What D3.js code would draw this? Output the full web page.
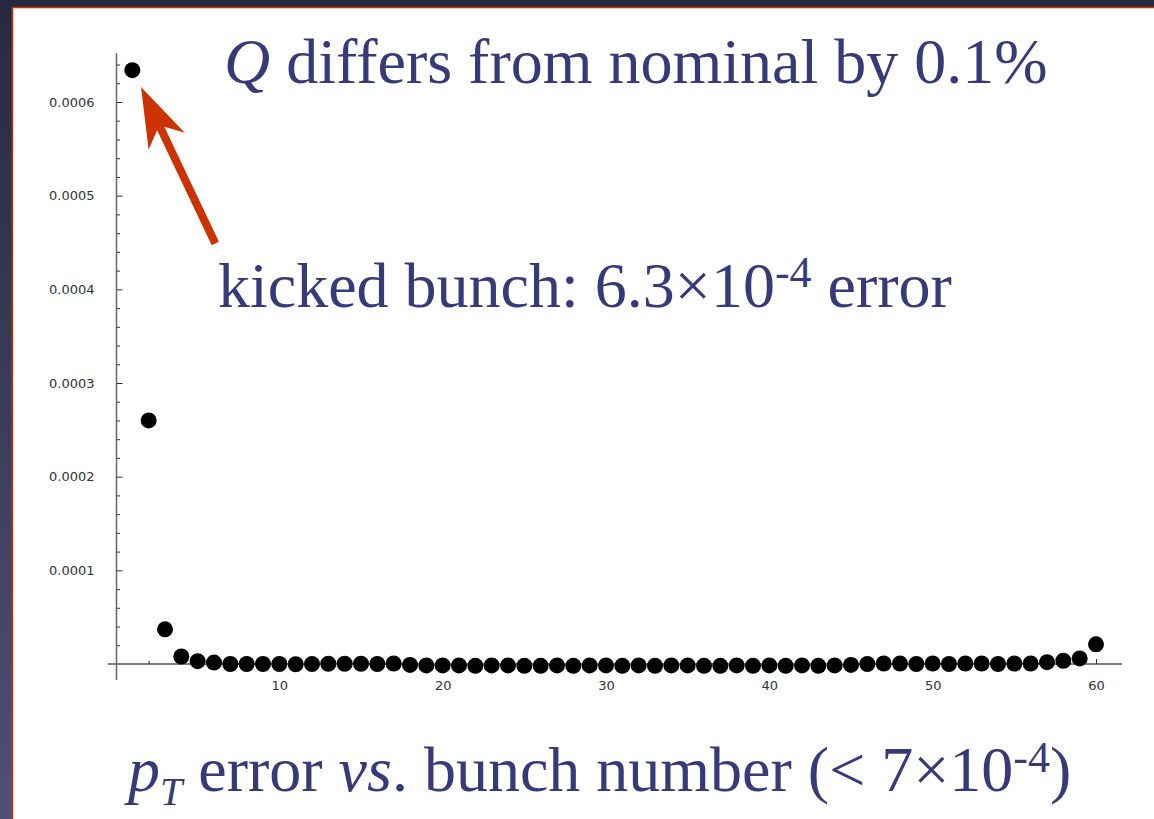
<!DOCTYPE html>
<html>
<head>
<meta charset="utf-8">
<script src="https://cdn.jsdelivr.net/npm/d3@7"></script>
<style>
  body { margin: 0; background: #fff; }
  text { white-space: pre; }
</style>
</head>
<body>
<div id="chart"></div>
<script>
var width = 1154,
    height = 819;

// bunch numbers and pT error
var bunch = [1, 2, 3, 4, 5, 6, 7, 8, 9, 10,
             11, 12, 13, 14, 15, 16, 17, 18, 19, 20,
             21, 22, 23, 24, 25, 26, 27, 28, 29, 30,
             31, 32, 33, 34, 35, 36, 37, 38, 39, 40,
             41, 42, 43, 44, 45, 46, 47, 48, 49, 50,
             51, 52, 53, 54, 55, 56, 57, 58, 59, 60];
var ptError = [6.34e-4, 2.60e-4, 0.37e-4, 0.08e-4, 0.03e-4, 0.015e-4, 0, 0, 0, 0,
               -0.003e-4, 0, 0.003e-4, 0.003e-4, 0.003e-4, 0, 0.005e-4, -0.01e-4, -0.015e-4, -0.015e-4,
               -0.015e-4, -0.02e-4, -0.015e-4, -0.015e-4, -0.02e-4, -0.02e-4, -0.015e-4, -0.02e-4, -0.015e-4, -0.015e-4,
               -0.02e-4, -0.015e-4, -0.02e-4, -0.015e-4, -0.015e-4, -0.02e-4, -0.02e-4, -0.015e-4, -0.02e-4, -0.015e-4,
               -0.02e-4, -0.015e-4, -0.02e-4, -0.015e-4, -0.01e-4, 0, 0.005e-4, 0.005e-4, 0, 0.005e-4,
               0, 0.005e-4, 0.005e-4, 0, 0.005e-4, 0.005e-4, 0.02e-4, 0.035e-4, 0.06e-4, 0.21e-4];

var yMajor = [0.0001, 0.0002, 0.0003, 0.0004, 0.0005, 0.0006];
var yMinor = [0.00002, 0.00004, 0.00006, 0.00008, 0.00012, 0.00014, 0.00016, 0.00018,
              0.00022, 0.00024, 0.00026, 0.00028, 0.00032, 0.00034, 0.00036, 0.00038,
              0.00042, 0.00044, 0.00046, 0.00048, 0.00052, 0.00054, 0.00056, 0.00058,
              0.00062, 0.00064];
var xMajor = [10, 20, 30, 40, 50, 60];
var xMinor = [2, 4, 6, 8, 12, 14, 16, 18, 22, 24, 26, 28, 32, 34, 36, 38,
              42, 44, 46, 48, 52, 54, 56, 58];

var textColor = "#363a79";

var svg = d3.select("#chart").append("svg")
    .attr("width", width)
    .attr("height", height);

// slide frame
var grad = svg.append("defs").append("linearGradient")
    .attr("id", "frame")
    .attr("x1", 0).attr("y1", 0).attr("x2", 0).attr("y2", 1);
grad.append("stop").attr("offset", "0%").attr("stop-color", "#272a3f");
grad.append("stop").attr("offset", "100%").attr("stop-color", "#4f4f77");

svg.append("rect")
    .attr("width", width).attr("height", height)
    .attr("fill", "url(#frame)");
svg.append("rect")
    .attr("x", 12).attr("y", 7)
    .attr("width", width - 12).attr("height", height - 7)
    .attr("fill", "#fff");
svg.append("line")
    .attr("x1", 12).attr("x2", width).attr("y1", 7.5).attr("y2", 7.5)
    .attr("stroke", "#cc3300").attr("stroke-width", 1.5);
svg.append("line")
    .attr("x1", 12.5).attr("x2", 12.5).attr("y1", 7).attr("y2", height)
    .attr("stroke", "#cc3300").attr("stroke-width", 1.5);

var x = d3.scaleLinear()
    .domain([0, 60])
    .range([116, 1096]);

var y = d3.scaleLinear()
    .domain([0, 0.0006])
    .range([664, 102]);

// axis lines
svg.append("line")
    .attr("x1", x(-0.5)).attr("x2", x(61.6))
    .attr("y1", y(0)).attr("y2", y(0))
    .attr("stroke", "#000").attr("stroke-width", 1.2);
svg.append("line")
    .attr("x1", x(0) + 0.5).attr("x2", x(0) + 0.5)
    .attr("y1", y(0.000652)).attr("y2", y(-0.000017))
    .attr("stroke", "#666").attr("stroke-width", 1.5);

// y axis, ticks pointing into the plot
var yAxis = svg.append("g")
    .attr("transform", "translate(" + (x(0) + 0.5) + ",0)")
    .call(d3.axisLeft(y)
        .tickValues(yMajor)
        .tickSize(-6)
        .tickPadding(22)
        .tickFormat(d3.format(".4f")));
svg.append("g")
    .attr("transform", "translate(" + (x(0) + 0.5) + ",0)")
    .call(d3.axisLeft(y)
        .tickValues(yMinor)
        .tickSize(-3.5)
        .tickFormat(""));

// x axis, ticks pointing up
svg.append("g")
    .attr("transform", "translate(0," + y(0) + ")")
    .call(d3.axisBottom(x)
        .tickValues(xMajor)
        .tickSize(-5)
        .tickPadding(17));
svg.append("g")
    .attr("transform", "translate(0," + y(0) + ")")
    .call(d3.axisBottom(x)
        .tickValues(xMinor)
        .tickSize(-3)
        .tickFormat(""));

svg.selectAll(".domain").remove();
svg.selectAll(".tick line").attr("stroke", "#333");
svg.selectAll(".tick text")
    .attr("fill", "#333")
    .style("font-family", "DejaVu Sans")
    .style("font-size", "13px");

// points
svg.selectAll("circle.pt")
    .data(bunch)
  .enter().append("circle")
    .attr("class", "pt")
    .attr("cx", function(d) { return x(d); })
    .attr("cy", function(d, i) { return y(ptError[i]); })
    .attr("r", 8)
    .attr("fill", "#000");

// arrow pointing at the kicked bunch
var tail = [x(6.08), y(0.000449)],
    tip = [x(1.53), y(0.000616)];
var dx = tip[0] - tail[0], dy = tip[1] - tail[1];
var len = Math.sqrt(dx * dx + dy * dy);
var ux = dx / len, uy = dy / len, px = -uy, py = ux;
var headLen = 60, barbBack = 46, barbW = 20, shaftW = 4;
function pt(along, side) {
  return [tip[0] - ux * along + px * side, tip[1] - uy * along + py * side];
}
var arrowPts = [
  tip,
  pt(headLen, barbW),
  pt(barbBack, shaftW),
  [tail[0] + px * shaftW, tail[1] + py * shaftW],
  [tail[0] - px * shaftW, tail[1] - py * shaftW],
  pt(barbBack, -shaftW),
  pt(headLen, -barbW)
];
svg.append("path")
    .attr("d", d3.line()(arrowPts) + "Z")
    .attr("fill", "#cc3300");

// slide text
var title = svg.append("text")
    .attr("x", 224).attr("y", 83)
    .attr("fill", textColor)
    .style("font-family", "Liberation Serif")
    .style("font-size", "64px");
title.append("tspan").attr("font-style", "italic").text("Q");
title.append("tspan").text(" differs from nominal by 0.1%");

var kick = svg.append("text")
    .attr("x", 218).attr("y", 307)
    .attr("fill", textColor)
    .style("font-family", "Liberation Serif")
    .style("font-size", "64px");
kick.append("tspan").text("kicked bunch: 6.3×10");
kick.append("tspan").attr("dy", -20).style("font-size", "44px").text("-4");
kick.append("tspan").attr("dy", 20).text(" error");

var caption = svg.append("text")
    .attr("x", 128).attr("y", 791)
    .attr("fill", textColor)
    .style("font-family", "Liberation Serif")
    .style("font-size", "64px");
caption.append("tspan").attr("font-style", "italic").text("p");
caption.append("tspan").attr("font-style", "italic").attr("dy", 14)
    .style("font-size", "40px").text("T");
caption.append("tspan").attr("dy", -14).text(" error ");
caption.append("tspan").attr("font-style", "italic").text("vs");
caption.append("tspan").text(". bunch number (< 7×10");
caption.append("tspan").attr("dy", -19).style("font-size", "44px").text("-4");
caption.append("tspan").attr("dy", 19).text(")");
</script>
</body>
</html>
